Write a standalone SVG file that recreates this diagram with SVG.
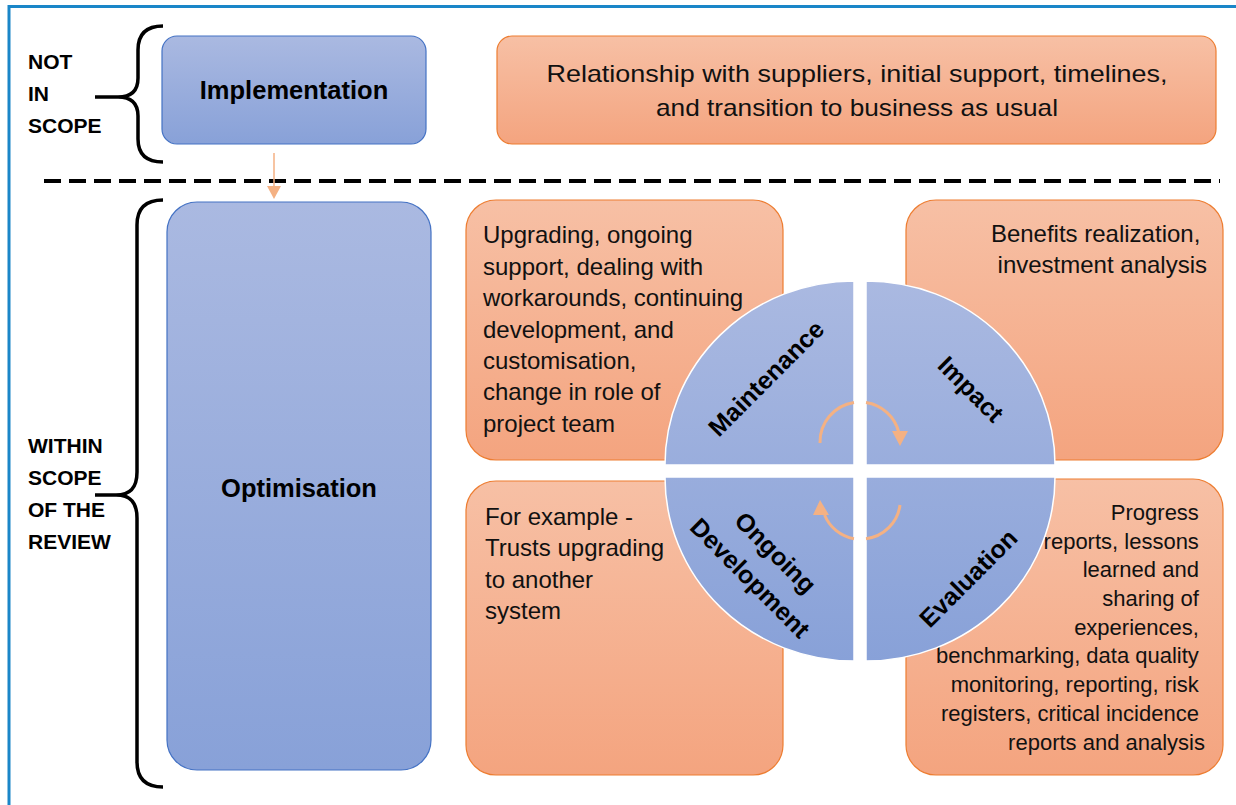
<svg xmlns="http://www.w3.org/2000/svg" width="1236" height="805" viewBox="0 0 1236 805">
<defs>
<linearGradient id="gBlue" x1="0" y1="0" x2="0" y2="1"><stop offset="0" stop-color="#aab9e1"/><stop offset="1" stop-color="#88a1d8"/></linearGradient>
<linearGradient id="gCircle" gradientUnits="userSpaceOnUse" x1="0" y1="281" x2="0" y2="661"><stop offset="0" stop-color="#aab9e1"/><stop offset="1" stop-color="#88a1d8"/></linearGradient>
<linearGradient id="gOrange" x1="0" y1="0" x2="0" y2="1"><stop offset="0" stop-color="#f7c0a5"/><stop offset="1" stop-color="#f4a47f"/></linearGradient>
</defs>
<style>
.blue{fill:url(#gBlue);stroke:#4472c4;stroke-width:1.2}
.orange{fill:url(#gOrange);stroke:#ed7d31;stroke-width:1.2}
.quad{fill:url(#gCircle);stroke:#ffffff;stroke-width:1.5}
.brace{fill:none;stroke:#000;stroke-width:3.5}
.lbl{font-family:"Liberation Sans",Arial,sans-serif;font-weight:bold;fill:#000}
.txt{font-family:"Liberation Sans",Arial,sans-serif;fill:#111}
.cyc{fill:none;stroke:#f4b183;stroke-width:3}
</style>
<rect width="1236" height="805" fill="#fff"/>
<g id="frame">
<line x1="8" y1="6.5" x2="1236" y2="6.5" stroke="#1a86c8" stroke-width="3"/>
<line x1="9" y1="5" x2="9" y2="805" stroke="#1a86c8" stroke-width="3"/>
</g>
<g id="scope-labels">
<path class="brace" d="M163,26 C146,26 138,34 138,50 L138,78 C138,91 131,97 118,97 L95,97 M118,97 C131,97 138,103 138,116 L138,139 C138,154 146,162 163,162"/>
<text class="lbl" font-size="21" x="28" y="69">NOT</text>
<text class="lbl" font-size="21" x="28" y="101">IN</text>
<text class="lbl" font-size="21" x="28" y="133">SCOPE</text>
<path class="brace" d="M163,200 C146,200 137,208 137,225 L137,472 C137,488 130,495 116,495 L95,495 M116,495 C130,495 137,502 137,518 L137,762 C137,779 146,787 163,787"/>
<text class="lbl" font-size="21" x="28" y="453">WITHIN</text>
<text class="lbl" font-size="21" x="28" y="485">SCOPE</text>
<text class="lbl" font-size="21" x="28" y="517">OF THE</text>
<text class="lbl" font-size="21" x="28" y="549">REVIEW</text>
</g>
<line id="divider" x1="44" y1="181" x2="1220" y2="181" stroke="#000" stroke-width="4" stroke-dasharray="17,8"/>
<g id="implementation">
<rect class="blue" x="162" y="36" width="264" height="108" rx="15"/>
<text class="lbl" font-size="25.5" x="294" y="99" text-anchor="middle">Implementation</text>
</g>
<g id="transition">
<rect class="orange" x="497" y="36" width="719" height="108" rx="15"/>
<text class="txt" font-size="24" x="857" y="82" text-anchor="middle" textLength="621" lengthAdjust="spacingAndGlyphs">Relationship with suppliers, initial support, timelines,</text>
<text class="txt" font-size="24" x="857" y="116" text-anchor="middle" textLength="402" lengthAdjust="spacingAndGlyphs">and transition to business as usual</text>
</g>
<g id="optimisation">
<rect class="blue" x="167" y="202" width="264" height="568" rx="30"/>
<text class="lbl" font-size="25.5" x="299" y="497" text-anchor="middle">Optimisation</text>
</g>
<g id="connectors">
<line x1="274" y1="153" x2="274" y2="188" stroke="#f4b183" stroke-width="1.5"/>
<polygon points="267,186 281,186 274,199" fill="#f4b183"/>
</g>
<g id="maintenance-box">
<rect class="orange" x="466" y="200" width="317" height="260" rx="30"/>
<text class="txt" font-size="24">
<tspan x="483" y="243">Upgrading, ongoing</tspan>
<tspan x="483" y="275">support, dealing with</tspan>
<tspan x="483" y="306">workarounds, continuing</tspan>
<tspan x="483" y="338">development, and</tspan>
<tspan x="483" y="369">customisation,</tspan>
<tspan x="483" y="400">change in role of</tspan>
<tspan x="483" y="432">project team</tspan>
</text>
</g>
<g id="impact-box">
<rect class="orange" x="906" y="200" width="317" height="260" rx="30"/>
<text class="txt" font-size="24" text-anchor="end">
<tspan x="1207" y="242">Benefits realization,</tspan>
<tspan x="1207" y="273">investment analysis</tspan>
</text>
</g>
<g id="development-box">
<rect class="orange" x="466" y="481" width="317" height="294" rx="30"/>
<text class="txt" font-size="24">
<tspan x="485" y="525">For example -</tspan>
<tspan x="485" y="556">Trusts upgrading</tspan>
<tspan x="485" y="588">to another</tspan>
<tspan x="485" y="619">system</tspan>
</text>
</g>
<g id="evaluation-box">
<rect class="orange" x="906" y="479" width="317" height="296" rx="30"/>
<text class="txt" font-size="22" text-anchor="end">
<tspan x="1205" y="520">Progress</tspan>
<tspan x="1205" y="549">reports, lessons</tspan>
<tspan x="1205" y="577">learned and</tspan>
<tspan x="1205" y="606">sharing of</tspan>
<tspan x="1205" y="635">experiences,</tspan>
<tspan x="1205" y="663">benchmarking, data quality</tspan>
<tspan x="1205" y="692">monitoring, reporting, risk</tspan>
<tspan x="1205" y="721">registers, critical incidence</tspan>
<tspan x="1205" y="750">reports and analysis</tspan>
</text>
</g>
<g id="cycle">
<g id="q-maintenance">
<path class="quad" d="M854,465 L665,465 A189,184 0 0,1 854,281 Z"/>
<text class="lbl" font-size="25" text-anchor="middle" transform="translate(766,378) rotate(-45)" y="9">Maintenance</text>
</g>
<g id="q-impact">
<path class="quad" d="M866,465 L866,281 A189,184 0 0,1 1055,465 Z"/>
<text class="lbl" font-size="25" text-anchor="middle" transform="translate(971,389) rotate(45)" y="9">Impact</text>
</g>
<g id="q-development">
<path class="quad" d="M854,477 L854,661 A189,184 0 0,1 665,477 Z"/>
<text class="lbl" font-size="25" text-anchor="middle" transform="translate(763,565) rotate(45)"><tspan x="0" y="-9">Ongoing</tspan><tspan x="0" y="27">Development</tspan></text>
</g>
<g id="q-evaluation">
<path class="quad" d="M866,477 L1055,477 A189,184 0 0,1 866,661 Z"/>
<text class="lbl" font-size="25" text-anchor="middle" transform="translate(968,578) rotate(-45)" y="9">Evaluation</text>
</g>
<g id="cycle-arrows">
<path class="cyc" d="M820,443 A40,40 0 0,1 854,402.5"/>
<path class="cyc" d="M866,402.5 A40,40 0 0,1 898.7,432"/>
<polygon points="892,431 908,431 900,446" fill="#f4b183"/>
<path class="cyc" d="M900,505 A39,39 0 0,1 866,538.7"/>
<path class="cyc" d="M854,538.7 A39,39 0 0,1 824.6,515"/>
<polygon points="813,515 829,515 820,500" fill="#f4b183"/>
</g>
</g>
</svg>
